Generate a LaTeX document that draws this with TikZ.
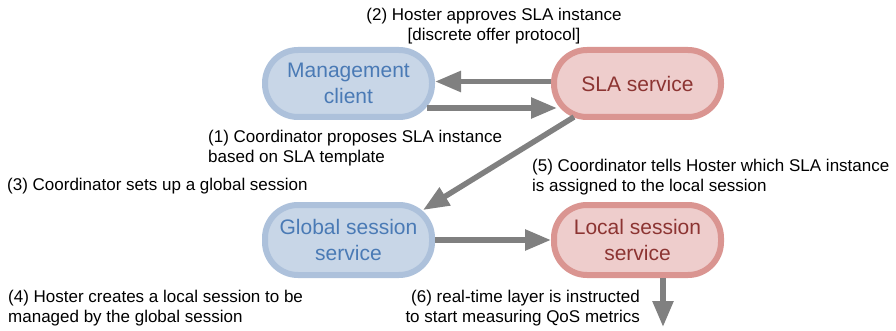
\documentclass[tikz,border=0pt]{standalone}
\usepackage{fontspec}
\setmainfont{Liberation Sans}
\usetikzlibrary{arrows.meta,calc}
\definecolor{bfill}{HTML}{C8D6E7}
\definecolor{bdraw}{HTML}{ADC1DB}
\definecolor{btext}{HTML}{4A7AB5}
\definecolor{rfill}{HTML}{EECDCC}
\definecolor{rdraw}{HTML}{DA9591}
\definecolor{rtext}{HTML}{8C3432}
\definecolor{agray}{HTML}{808080}
\begin{document}
\begin{tikzpicture}[x=1pt,y=-1pt,
  box/.style={rounded corners=33pt, line width=6pt, minimum width=167pt, minimum height=67pt, align=center, inner sep=0pt, font=\fontsize{21}{26}\selectfont},
  bluebox/.style={box, fill=bfill, draw=bdraw, text=btext},
  redbox/.style={box, fill=rfill, draw=rdraw, text=rtext},
  flow/.style={draw=agray, line width=5.5pt, -{Triangle[length=26pt,width=20pt]}},
  lbl/.style={inner sep=0pt, font=\fontsize{17}{19.5}\selectfont, align=left}]
\useasboundingbox (0,0) rectangle (896,331);
\node[bluebox] (mgmt) at (348.5,83.5) {Management\\client};
\node[redbox] (sla) at (637.5,83.5) {SLA service};
\node[bluebox, minimum height=70pt] (glob) at (348.5,240) {Global session\\service};
\node[redbox, minimum height=70pt] (loc) at (637.5,240) {Local session\\service};
\coordinate (out) at (663,327);

\draw[flow] ([yshift=2pt]sla.west) -- ([yshift=2pt]mgmt.east);
\draw[flow] ($(mgmt.east)+(-8,24.5)$) -- ($(sla.west)+(6,24.5)$);
\draw[flow] ($(sla.south west)+(23,-3)$) -- ($(glob.east)+(-12,-30)$);
\draw[flow] (glob.east) -- (loc.west);
\draw[flow] ($(loc.south)+(25.5,0)$) -- (out);

\node[lbl, align=center] (l2) at (494,26) {(2) Hoster approves SLA instance\\{}[discrete offer protocol]};
\node[lbl, anchor=west] (l1) at (208,148) {(1) Coordinator proposes SLA instance\\based on SLA template};
\node[lbl, anchor=west] (l3) at (7,186) {(3) Coordinator sets up a global session};
\node[lbl, anchor=west] (l5) at (532,177) {(5) Coordinator tells Hoster which SLA instance\\is assigned to the local session};
\node[lbl, anchor=west] (l4) at (8,308) {(4) Hoster creates a local session to be\\managed by the global session};
\node[lbl, anchor=east, align=right] (l6) at (640,308) {(6) real-time layer is instructed\\to start measuring QoS metrics};
\end{tikzpicture}
\end{document}
